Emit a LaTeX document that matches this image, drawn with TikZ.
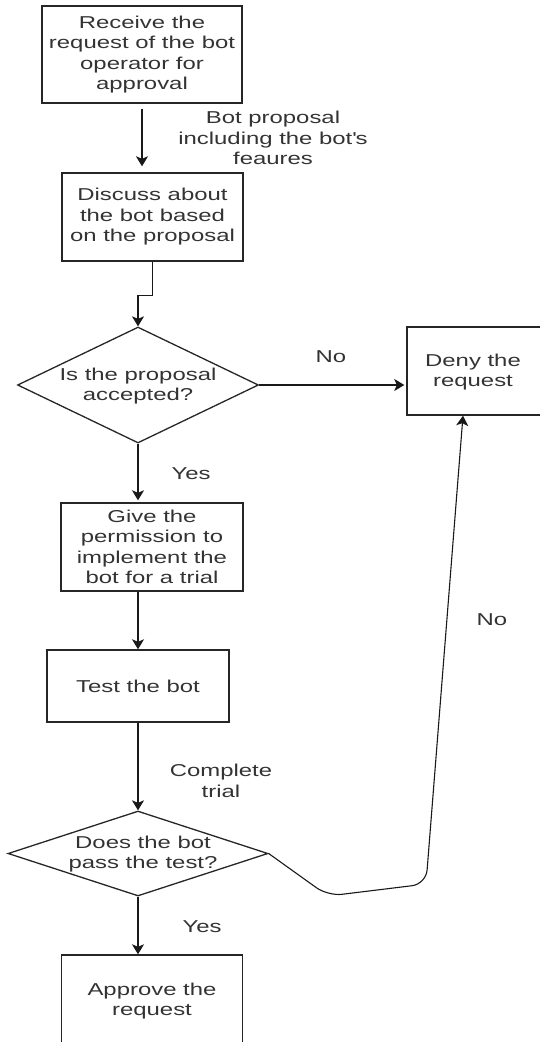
\documentclass[tikz,border=0pt]{standalone}
\usepackage{fontspec}
\setmainfont[FakeStretch=1.39]{Liberation Sans}
\usetikzlibrary{arrows.meta,shapes.geometric}
\begin{document}
\begin{tikzpicture}[x=1pt,y=-1pt,
  every node/.style={font=\fontsize{17.2}{20.5}\selectfont, text=black!80, align=center, inner sep=0pt},
  box/.style={draw=black!85, line width=1.4pt, rectangle},
  dia/.style={draw=black!85, line width=1.3pt, diamond},
  edge/.style={draw=black!90, line width=1.4pt, -{Stealth[length=10pt,width=12pt,inset=2.5pt]}},
]
\useasboundingbox (0,0) rectangle (540,1042);
\clip (0,0) rectangle (540,1042);

\node[box, minimum width=200pt, minimum height=97pt] (b1) at (142,54.5) {Receive the\\request of the bot\\operator for\\approval};
\node[box, minimum width=181pt, minimum height=88pt] (b2) at (152.5,217) {Discuss about\\the bot based\\on the proposal};
\node[dia, minimum width=241pt, minimum height=116pt] (d1) at (138,385) {};
\node (d1t) at (138,386) {Is the proposal\\accepted?};
\node[box, minimum width=135pt, minimum height=88pt] (deny) at (474.5,371) {};
\node (denyt) at (473,372) {Deny the\\request};
\node[box, minimum width=182pt, minimum height=88pt] (b3) at (152,547) {Give the\\permission to\\implement the\\bot for a trial};
\node[box, minimum width=182pt, minimum height=72pt] (b4) at (138,686) {Test the bot};
\node[dia, minimum width=260pt, minimum height=85pt] (d2) at (138,853.5) {};
\node (d2t) at (143,854) {Does the bot\\pass the test?};
\node[box, minimum width=181pt, minimum height=92pt] (b5) at (152,1001) {Approve the\\request};

\node (l1) at (273,138) {Bot proposal\\including the bot\textquotesingle s\\feaures};
\node (l2) at (331,357) {No};
\node (l3) at (191,474) {Yes};
\node (l4) at (492,620) {No};
\node (l5) at (221,781) {Complete\\trial};
\node (l6) at (202,927) {Yes};

\draw[edge, shorten <=5pt, shorten >=6pt] (b1.south) -- (b1.south |- b2.north);
\draw[edge] (b2.south) -- ++(0,34) -| (d1.north);
\draw[edge, shorten >=2pt] (d1.east) -- (d1.east -| deny.west);
\draw[edge, shorten >=2pt] (d1.south) -- (d1.south |- b3.north);
\draw[edge] (b4.north |- b3.south) -- (b4.north);
\draw[edge] (b4.south) -- (d2.north);
\draw[edge] (d2.south) -- (d2.south |- b5.north);
\draw[edge, line width=1.1pt, rounded corners=14pt] (d2.east) -- (328,896) -- (426,884) -- ([xshift=-11.5pt]deny.south);
\end{tikzpicture}
\end{document}
